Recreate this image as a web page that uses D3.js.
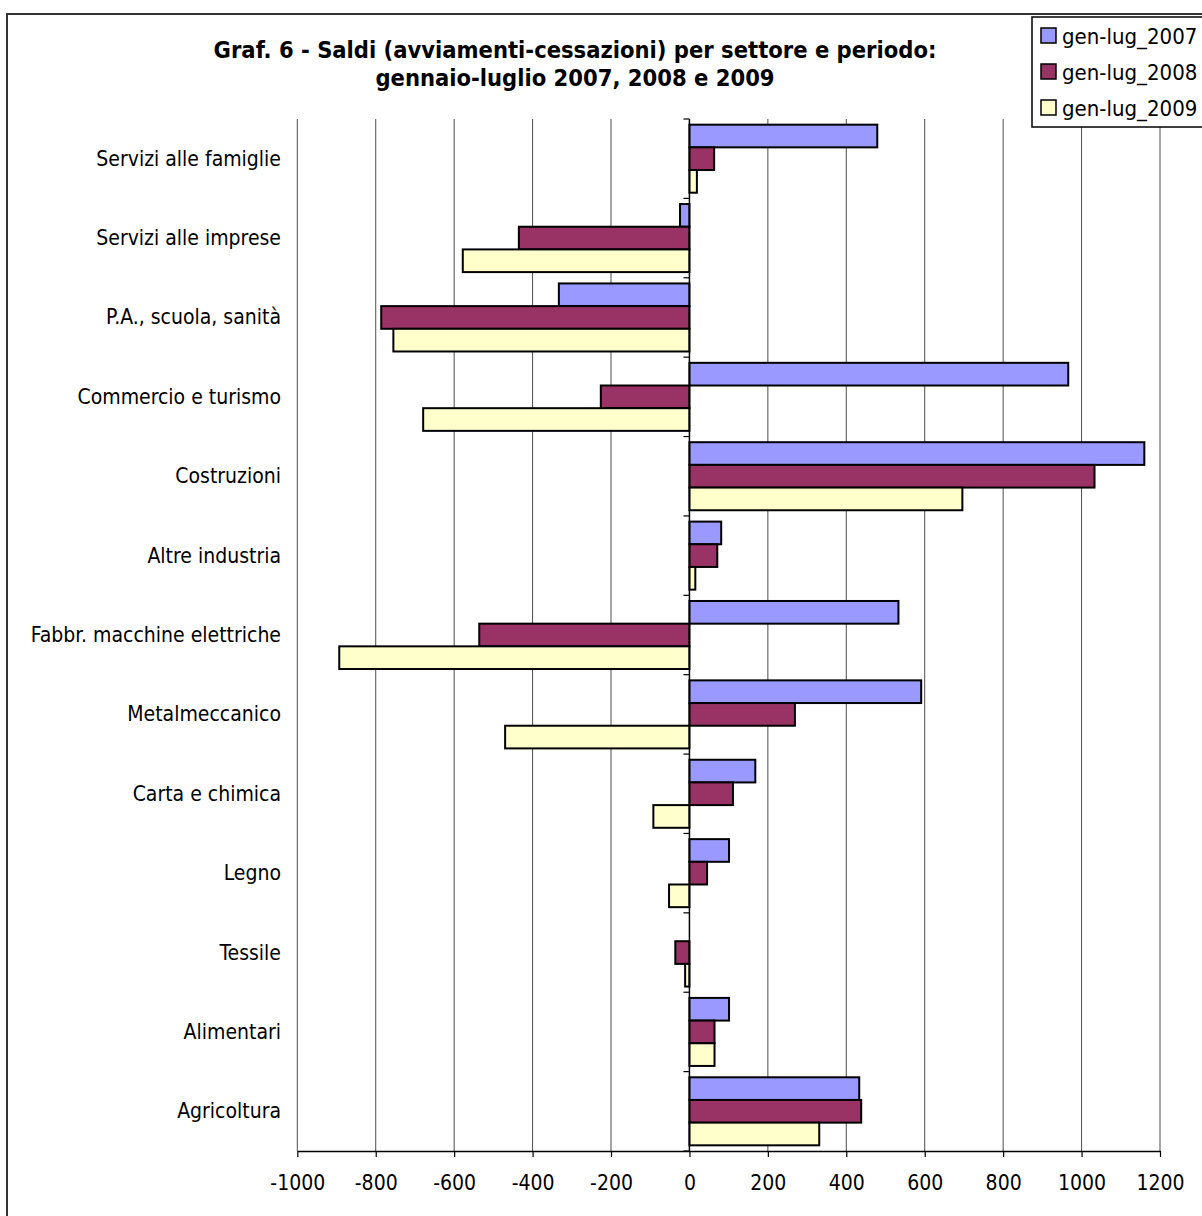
<!DOCTYPE html>
<html>
<head>
<meta charset="utf-8">
<script src="https://cdn.jsdelivr.net/npm/d3@7"></script>
<style>
  html, body { margin: 0; padding: 0; background: #fff; }
  svg { display: block; }
  text { font-family: "DejaVu Sans Condensed", "DejaVu Sans", sans-serif; fill: #000; }
</style>
</head>
<body>
<svg id="chart" width="1202" height="1216"></svg>
<script>
const titleLines = [
  "Graf. 6 - Saldi (avviamenti-cessazioni) per settore e periodo:",
  "gennaio-luglio 2007, 2008 e 2009"
];
const categories = [
  "Servizi alle famiglie",
  "Servizi alle imprese",
  "P.A., scuola, sanità",
  "Commercio e turismo",
  "Costruzioni",
  "Altre industria",
  "Fabbr. macchine elettriche",
  "Metalmeccanico",
  "Carta e chimica",
  "Legno",
  "Tessile",
  "Alimentari",
  "Agricoltura"
];
const seriesNames = ["gen-lug_2007", "gen-lug_2008", "gen-lug_2009"];
const values2007 = [479, -24, -333, 966, 1160, 81, 533, 591, 168, 101, 0, 101, 433];
const values2008 = [63, -435, -786, -226, 1033, 71, -536, 269, 111, 45, -36, 64, 438];
const values2009 = [19, -578, -755, -679, 696, 15, -893, -470, -92, -52, -11, 64, 331];
const seriesValues = [values2007, values2008, values2009];
const seriesColors = ["#9999FF", "#993366", "#FFFFCC"];
const xTicks = [-1000, -800, -600, -400, -200, 0, 200, 400, 600, 800, 1000, 1200];
const xTickLabels = ["-1000", "-800", "-600", "-400", "-200", "0", "200", "400", "600", "800", "1000", "1200"];

const svg = d3.select("#chart");

// outer chart frame
svg.append("rect")
  .attr("x", 7).attr("y", 14)
  .attr("width", 1230).attr("height", 1230)
  .attr("fill", "none").attr("stroke", "#333").attr("stroke-width", 2);

const plot = { left: 297.3, right: 1160, top: 119, bottom: 1151 };

const x = d3.scaleLinear().domain([-1000, 1200]).range([plot.left, plot.right]);
const y = d3.scaleBand().domain(categories).range([plot.top, plot.bottom])
  .paddingInner(0.143).paddingOuter(0.0715);
const ySub = d3.scaleBand().domain(seriesNames).range([0, y.bandwidth()]);

// gridlines
svg.append("g").selectAll("line")
  .data(xTicks.filter(d => d !== 0))
  .join("line")
  .attr("x1", d => x(d)).attr("x2", d => x(d))
  .attr("y1", plot.top).attr("y2", plot.bottom)
  .attr("stroke", "#4d4d4d").attr("stroke-width", 1);

// bars
const rows = [];
categories.forEach((c, i) => {
  seriesNames.forEach((s, j) => {
    rows.push({ cat: c, series: s, value: seriesValues[j][i], color: seriesColors[j] });
  });
});
svg.append("g").selectAll("rect")
  .data(rows.filter(d => d.value !== 0))
  .join("rect")
  .attr("x", d => Math.min(x(0), x(d.value)))
  .attr("width", d => Math.abs(x(d.value) - x(0)))
  .attr("y", d => y(d.cat) + ySub(d.series))
  .attr("height", ySub.bandwidth())
  .attr("fill", d => d.color)
  .attr("stroke", "#000")
  .attr("stroke-width", 2);

// bottom axis
const xAxis = d3.axisBottom(x).tickValues(xTicks).tickSize(6).tickSizeOuter(0)
  .tickFormat((d, i) => xTickLabels[i]);
const gx = svg.append("g").attr("transform", `translate(0,${plot.bottom})`).call(xAxis);
gx.select(".domain").attr("stroke", "#000").attr("stroke-width", 1.5);
gx.selectAll(".tick line").attr("stroke", "#000").attr("stroke-width", 1.2);
gx.selectAll(".tick text")
  .attr("font-family", '"DejaVu Sans Condensed", "DejaVu Sans", sans-serif')
  .attr("font-size", 21).attr("fill", "#000")
  .attr("y", 32).attr("dy", null)
  .attr("dominant-baseline", "central");

// category axis at zero
const boundaries = d3.range(categories.length + 1).map(i => plot.top + i * y.step());
svg.append("line")
  .attr("x1", x(0)).attr("x2", x(0))
  .attr("y1", plot.top).attr("y2", plot.bottom)
  .attr("stroke", "#000").attr("stroke-width", 1.5);
svg.append("g").selectAll("line")
  .data(boundaries)
  .join("line")
  .attr("x1", x(0) - 6).attr("x2", x(0))
  .attr("y1", d => d).attr("y2", d => d)
  .attr("stroke", "#000").attr("stroke-width", 1.2);

// category labels
svg.append("g").selectAll("text")
  .data(categories)
  .join("text")
  .attr("x", 281)
  .attr("y", d => y(d) + y.bandwidth() / 2)
  .attr("text-anchor", "end")
  .attr("dominant-baseline", "central")
  .attr("font-size", 21)
  .text(d => d);

// title
svg.append("g").selectAll("text")
  .data(titleLines)
  .join("text")
  .attr("x", 575)
  .attr("y", (d, i) => 50 + i * 28)
  .attr("text-anchor", "middle")
  .attr("dominant-baseline", "central")
  .attr("font-size", 23.5)
  .attr("font-weight", "bold")
  .text(d => d);

// legend
const lg = svg.append("g");
lg.append("rect")
  .attr("x", 1032).attr("y", 17).attr("width", 200).attr("height", 110)
  .attr("fill", "#fff").attr("stroke", "#000").attr("stroke-width", 1.5);
const items = lg.selectAll("g.item").data(seriesNames).join("g")
  .attr("transform", (d, i) => `translate(0,${36 + i * 36})`);
items.append("rect")
  .attr("x", 1041).attr("y", -8).attr("width", 15).attr("height", 15)
  .attr("fill", (d, i) => seriesColors[i]).attr("stroke", "#000").attr("stroke-width", 1.5);
items.append("text")
  .attr("x", 1062).attr("y", 0)
  .attr("dominant-baseline", "central")
  .attr("font-size", 22)
  .text(d => d);
</script>
</body>
</html>
